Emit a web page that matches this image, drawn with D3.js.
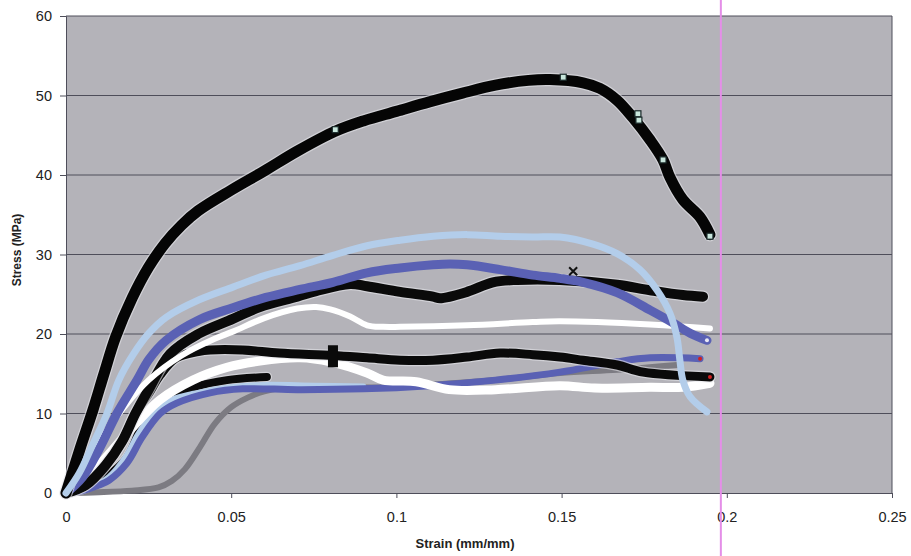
<!DOCTYPE html>
<html>
<head>
<meta charset="utf-8">
<script src="https://cdn.jsdelivr.net/npm/d3@7"></script>
<style>
  html, body { margin: 0; padding: 0; background: #ffffff; }
  svg { display: block; }
  text { font-family: "Liberation Sans", Arial, sans-serif; fill: #222; }
</style>
</head>
<body>
<script>
// ---- data (strain mm/mm, stress MPa) ----
const xTicks = [0, 0.05, 0.1, 0.15, 0.2, 0.25];
const xTickLabels = ["0", "0.05", "0.1", "0.15", "0.2", "0.25"];
const yTicks = [0, 10, 20, 30, 40, 50, 60];
const refStrain = 0.1982;

const grayA = [[0,0],[0.01,0.1],[0.02,0.3],[0.028,0.7],[0.032,1.5],[0.036,3],[0.0406,5.8],[0.045,8.7],[0.050,10.8],[0.055,12],[0.060,12.8],[0.0708,13.4],[0.08,13.3],[0.1,13.3],[0.11,13.6],[0.13,14.2],[0.1495,15.1],[0.1668,15.5],[0.1849,16.1]];
const blackD = [[0,0],[0.005,0.5],[0.01,1.5],[0.014,2.6],[0.0185,4.5],[0.0224,7.9],[0.0263,10.8],[0.03,12],[0.0384,13.3],[0.0487,14.2],[0.0608,14.6]];
const lightBlueB = [[0,0],[0.008,0.8],[0.013,2],[0.018,4.5],[0.022,7.5],[0.027,10.3],[0.032,11.7],[0.04,12.6],[0.05,13.3],[0.06,13.6],[0.075,13.5],[0.09,13.4]];
const blueB = [[0,0],[0.005,0.3],[0.01,1],[0.013,1.6],[0.0185,3.8],[0.023,7],[0.0285,10],[0.0335,11.3],[0.0436,12.6],[0.0535,13.1],[0.07,13],[0.09,13.1],[0.11,13.5],[0.13,14.2],[0.1495,15.2],[0.1668,16.5],[0.1768,17],[0.1919,16.9]];
const whiteB = [[0,0],[0.005,1.5],[0.01,3.5],[0.0185,7.5],[0.0284,11.7],[0.0384,14.2],[0.0487,15.8],[0.0587,16.6],[0.0708,17.0],[0.08,16.5],[0.0911,15.1],[0.096,14.2],[0.106,14.0],[0.116,13],[0.13,13],[0.1495,13.5],[0.16,13.2],[0.1768,13.3],[0.1867,13.3],[0.1949,13.8]];
const blackC = [[0,0],[0.006,1],[0.012,3.5],[0.017,6.5],[0.021,10],[0.025,12.5],[0.0284,14.8],[0.0333,17],[0.04,17.8],[0.0436,18],[0.0535,18],[0.0645,17.6],[0.0808,17.3],[0.0911,17],[0.1011,16.7],[0.1111,16.7],[0.1214,17.1],[0.1314,17.6],[0.1413,17.4],[0.1495,17.1],[0.1565,16.7],[0.1668,16.1],[0.1747,15.2],[0.1949,14.6]];
const blackB = [[0,0],[0.006,1],[0.012,3.5],[0.017,6.5],[0.021,10],[0.025,13],[0.0315,17.5],[0.04,20],[0.0505,21.9],[0.0587,23.4],[0.07,24.7],[0.0757,25.4],[0.086,26.3],[0.0911,26],[0.1011,25.3],[0.1111,24.7],[0.1132,24.5],[0.1214,25.3],[0.1292,26.5],[0.1365,26.8],[0.1495,26.8],[0.1668,26.2],[0.1768,25.5],[0.1867,24.9],[0.1928,24.7]];
const whiteA = [[0,0],[0.005,3],[0.01,6.5],[0.017,10.5],[0.025,14.2],[0.035,17.3],[0.045,19.4],[0.0505,20.3],[0.06,22],[0.07,23.2],[0.0757,23.4],[0.08,23.1],[0.086,22.2],[0.0911,21.1],[0.096,20.9],[0.1011,20.9],[0.1214,21.1],[0.1413,21.5],[0.1495,21.6],[0.1768,21.2],[0.1949,20.7]];
const blueA = [[0,0],[0.005,2],[0.01,5.5],[0.0154,10],[0.0215,14.2],[0.0251,16.8],[0.0303,19.2],[0.0403,21.8],[0.0505,23.3],[0.0605,24.6],[0.0708,25.6],[0.0808,26.5],[0.0911,27.7],[0.1011,28.3],[0.1111,28.7],[0.1162,28.8],[0.1214,28.7],[0.1314,28.1],[0.1413,27.4],[0.1495,27.0],[0.1565,26.5],[0.1668,25.2],[0.1768,23.0],[0.1837,21.4],[0.1889,20.1],[0.194,19.2]];
const blackA = [[0,0],[0.0042,5.5],[0.0082,10.5],[0.0115,15],[0.015,19.6],[0.02,24.5],[0.025,28.4],[0.03,31.4],[0.035,33.7],[0.04,35.5],[0.05,38.1],[0.06,40.5],[0.07,43],[0.0815,45.5],[0.09,46.8],[0.1,48],[0.11,49.2],[0.12,50.3],[0.13,51.3],[0.14,51.9],[0.1465,52],[0.1565,51.6],[0.1616,50.9],[0.1668,49.4],[0.1716,47.2],[0.1768,44.4],[0.1807,41.9],[0.1828,39.7],[0.1867,36.9],[0.1919,34.7],[0.1949,32.5]];
const lightBlueA = [[0,0],[0.004,2.5],[0.008,6],[0.0124,10],[0.016,14.2],[0.0203,17.4],[0.0251,20.1],[0.0303,22.1],[0.0403,24.3],[0.0505,25.9],[0.0605,27.4],[0.0708,28.6],[0.0808,29.9],[0.0911,31.1],[0.1011,31.8],[0.1111,32.3],[0.1214,32.5],[0.1314,32.3],[0.1413,32.2],[0.1495,32.2],[0.1595,31.3],[0.1668,30.1],[0.1737,28.1],[0.1789,25.5],[0.1828,22.6],[0.1849,19.6],[0.1858,16.7],[0.1867,14.2],[0.1889,12.1],[0.194,10.2]];

const squareMarkers = [[0.0815,45.7],[0.1505,52.3],[0.1731,47.7],[0.1734,46.9],[0.1807,41.9],[0.1949,32.3]];
const crossMarker = [[0.1535,27.9]];
const barMarker = [[0.0808,17.2]];
const redDots = [[0.1919,16.9],[0.1949,14.6]];
const whiteDots = [[0.194,19.2]];

// ---- layout ----
const W = 911, H = 556;
const x = d3.scaleLinear().domain([0, 0.25]).range([66, 892]);
const y = d3.scaleLinear().domain([0, 60]).range([493, 16]);

const svg = d3.select("body").append("svg").attr("width", W).attr("height", H);

// plot background
svg.append("rect")
  .attr("x", x(0)).attr("y", y(60))
  .attr("width", x(0.25) - x(0)).attr("height", y(0) - y(60))
  .attr("fill", "#b4b3b9");

// gridlines
svg.append("g").selectAll("line").data(yTicks.filter(d => d > 0)).join("line")
  .attr("x1", x(0)).attr("x2", x(0.25))
  .attr("y1", d => y(d)).attr("y2", d => y(d))
  .attr("stroke", "#4e4e5a").attr("stroke-width", 1);

// right border
svg.append("line").attr("x1", x(0.25)).attr("x2", x(0.25)).attr("y1", y(60)).attr("y2", y(0))
  .attr("stroke", "#4e4e5a").attr("stroke-width", 1);

// axes
const yAxis = svg.append("g").attr("transform", `translate(${x(0)},0)`)
  .call(d3.axisLeft(y).tickValues(yTicks).tickSize(6).tickPadding(8).tickFormat(d3.format("d")));
const xAxis = svg.append("g").attr("transform", `translate(0,${y(0)})`)
  .call(d3.axisBottom(x).tickValues(xTicks).tickSize(5).tickPadding(14).tickFormat((d, i) => xTickLabels[i]));
[yAxis, xAxis].forEach(g => {
  g.select(".domain").attr("stroke", "#4e4e5a");
  g.selectAll(".tick line").attr("stroke", "#4e4e5a");
  g.selectAll(".tick text").attr("font-size", 14.5).attr("fill", "#2a2a2a")
    .attr("font-family", "Liberation Sans, Arial, sans-serif");
});

// series
const line = d3.line().x(d => x(d[0])).y(d => y(d[1])).curve(d3.curveCatmullRom.alpha(0.5));
const series = [
  {data: grayA, color: "#7c7b82", w: 6},
  {data: blackD, color: "#0a0a0a", w: 8, halo: true},
  {data: lightBlueB, color: "#b3cdea", w: 6},
  {data: blueB, color: "#5a61b4", w: 7},
  {data: whiteB, color: "#ffffff", w: 9},
  {data: blackC, color: "#0a0a0a", w: 9, halo: true},
  {data: blackB, color: "#0a0a0a", w: 10, halo: true},
  {data: whiteA, color: "#ffffff", w: 6},
  {data: blueA, color: "#5a61b4", w: 9},
  {data: blackA, color: "#050505", w: 11, halo: true},
  {data: lightBlueA, color: "#b3cdea", w: 7}
];
const gS = svg.append("g");
series.forEach(s => {
  if (s.halo) {
    gS.append("path").attr("d", line(s.data)).attr("fill", "none")
      .attr("stroke", "#e4e4ea").attr("stroke-opacity", 0.6).attr("stroke-width", s.w + 2.5)
      .attr("stroke-linecap", "round").attr("stroke-linejoin", "round");
  }
  gS.append("path").attr("d", line(s.data)).attr("fill", "none")
    .attr("stroke", s.color).attr("stroke-width", s.w)
    .attr("stroke-linecap", "round").attr("stroke-linejoin", "round");
});

// markers
svg.append("g").selectAll("rect").data(squareMarkers).join("rect")
  .attr("x", d => x(d[0]) - 3).attr("y", d => y(d[1]) - 3)
  .attr("width", 6).attr("height", 6)
  .attr("fill", "#c8e6dc").attr("stroke", "#1a2a2a").attr("stroke-width", 1.2);
svg.append("g").selectAll("path").data(crossMarker).join("path")
  .attr("d", d => { const cx = x(d[0]), cy = y(d[1]); return `M${cx-4},${cy-4}L${cx+4},${cy+4}M${cx-4},${cy+4}L${cx+4},${cy-4}`; })
  .attr("stroke", "#111").attr("stroke-width", 2);
svg.append("g").selectAll("rect").data(barMarker).join("rect")
  .attr("x", d => x(d[0]) - 5).attr("y", d => y(d[1]) - 11)
  .attr("width", 10).attr("height", 22).attr("fill", "#0a0a0a");
svg.append("g").selectAll("circle").data(redDots).join("circle")
  .attr("cx", d => x(d[0])).attr("cy", d => y(d[1])).attr("r", 2).attr("fill", "#d02020");
svg.append("g").selectAll("circle").data(whiteDots).join("circle")
  .attr("cx", d => x(d[0])).attr("cy", d => y(d[1])).attr("r", 2).attr("fill", "#e8e8f4");

// reference vertical line
svg.append("line").attr("x1", x(refStrain)).attr("x2", x(refStrain)).attr("y1", 0).attr("y2", H)
  .attr("stroke", "#e48ee8").attr("stroke-width", 2);

// axis titles
svg.append("text").attr("x", 465).attr("y", 548).attr("text-anchor", "middle")
  .attr("font-size", 13).attr("font-weight", "bold").text("Strain (mm/mm)");
svg.append("text").attr("transform", "translate(21,250) rotate(-90)").attr("text-anchor", "middle")
  .attr("font-size", 12).attr("font-weight", "bold").text("Stress (MPa)");
</script>
</body>
</html>
